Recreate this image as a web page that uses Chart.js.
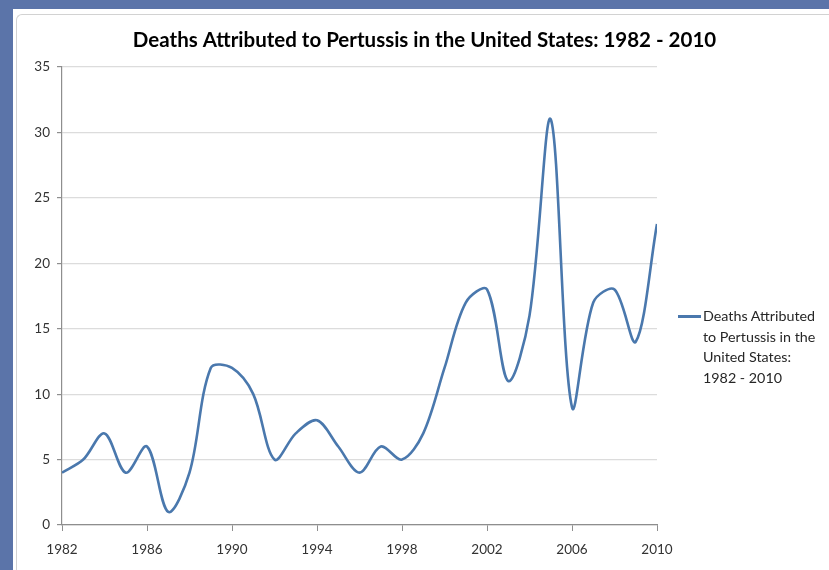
<!DOCTYPE html>
<html><head><meta charset="utf-8">
<script src="https://cdn.jsdelivr.net/npm/chart.js@4.4.0/dist/chart.umd.min.js"></script>
<style>
html,body{margin:0;padding:0;width:829px;height:570px;overflow:hidden;background:#5b74a9;}
#panel{position:absolute;left:13px;top:9px;right:0;bottom:0;background:#fff;}
#frame{position:absolute;left:3px;top:5px;right:-4px;bottom:-4px;border-left:1px solid #d2d2d2;border-top:1px solid #d2d2d2;border-top-left-radius:6px;}
#c{position:absolute;left:0;top:0;}
#legend{position:absolute;left:678px;top:306px;font:14.3px Lato;color:#262626;line-height:20.7px;}
#legend .sw{position:absolute;left:0;top:9px;width:23px;height:2.5px;}
#legend .tx{position:absolute;left:25px;top:0;width:121px;}
</style></head>
<body>
<div id="panel"><div id="frame"></div></div>
<canvas id="c" width="829" height="570"></canvas>
<div id="legend"></div>
<script>
const years = [1982,1983,1984,1985,1986,1987,1988,1989,1990,1991,1992,1993,1994,1995,1996,1997,1998,1999,2000,2001,2002,2003,2004,2005,2006,2007,2008,2009,2010];
const deaths = [4,5,7,4,6,1,4,12,12,10,5,7,8,6,4,6,5,7,12,17,18,11,16,31,9,17,18,14,23];
const xTickLabels = [1982,1986,1990,1994,1998,2002,2006,2010];
const yTickLabels = [0,5,10,15,20,25,30,35];
const seriesName = 'Deaths Attributed to Pertussis in the United States: 1982 - 2010';
const chartTitle = 'Deaths Attributed to Pertussis in the United States: 1982 - 2010';

const lineColor = '#4a78ad';
const axisColor = '#8e8e8e';
const tickFont = {family:'Lato', size:13.5};

const chart = new Chart(document.getElementById('c'), {
  type: 'line',
  data: {
    datasets: [{
      label: seriesName,
      data: years.map((y,i)=>({x:y, y:deaths[i]})),
      borderColor: lineColor,
      borderWidth: 2.6,
      pointRadius: 0,
      tension: 0.33,
      fill: false
    }]
  },
  options: {
    responsive: false,
    animation: false,
    layout: {padding: {left: 20, right: 0, top: 0, bottom: 12}},
    plugins: {
      legend: {display: false},
      tooltip: {enabled: false},
      title: {
        display: true, text: chartTitle, color: '#000',
        font: {family:'Lato', size:20.5, weight:'bold'},
        padding: {top: 28, bottom: 14.4}
      }
    },
    scales: {
      x: {
        type: 'linear', min: 1982, max: 2010,
        afterBuildTicks: s => { s.ticks = xTickLabels.map(v=>({value:v})); },
        afterFit: s => { s.height = 33; },
        grid: {drawOnChartArea: false, drawTicks: true, tickLength: 6, color: axisColor},
        border: {color: axisColor, width: 1.2},
        ticks: {font: tickFont, color: '#333', padding: 11, maxRotation: 0, autoSkip:false, callback: v => String(v)}
      },
      y: {
        min: 0, max: 35,
        afterBuildTicks: s => { s.ticks = yTickLabels.map(v=>({value:v})); },
        afterFit: s => { s.width = 42; },
        grid: {color: '#dcdcdc', lineWidth: 1.2, tickColor: axisColor, tickLength: 5},
        border: {color: axisColor, width: 1.2},
        ticks: {font: tickFont, color: '#333', padding: 7}
      },
      r2: {
        type: 'linear', position: 'right', display: true,
        afterFit: s => { s.width = 172; },
        grid: {display: false}, border: {display: false},
        ticks: {display: false}
      }
    }
  }
});

const lg = document.getElementById('legend');
const ds = chart.data.datasets[0];
const sw = document.createElement('div'); sw.className='sw'; sw.style.background = ds.borderColor;
const tx = document.createElement('div'); tx.className='tx'; tx.textContent = ds.label;
lg.appendChild(sw); lg.appendChild(tx);
</script>
</body></html>
